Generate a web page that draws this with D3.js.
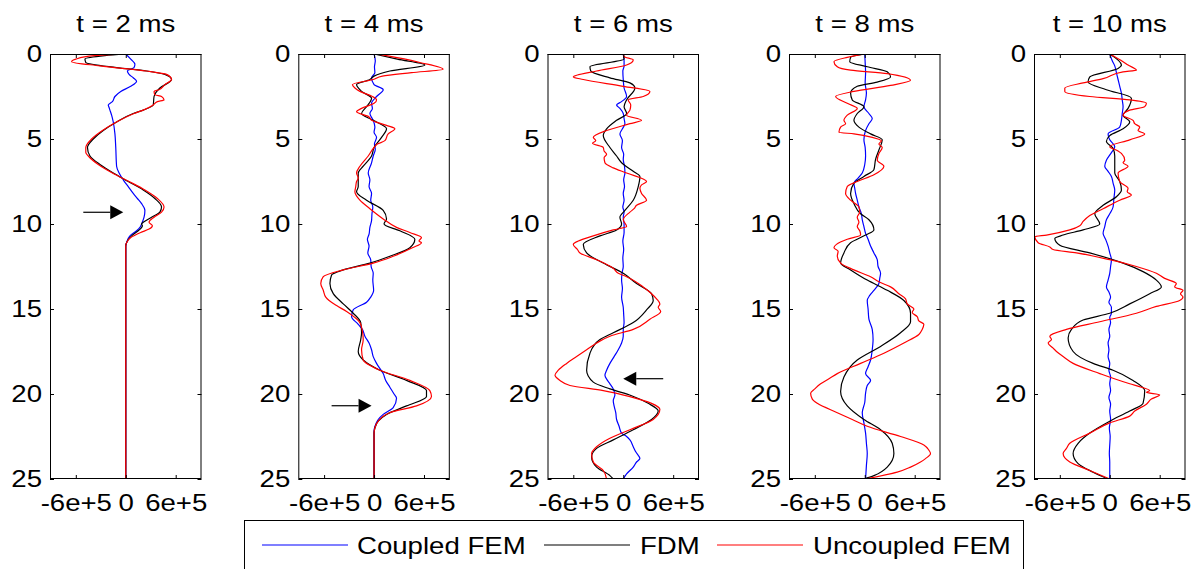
<!DOCTYPE html>
<html>
<head>
<meta charset="utf-8">
<script src="https://cdn.jsdelivr.net/npm/d3@7/dist/d3.min.js"></script>
<style>
  html, body { margin: 0; padding: 0; background: #fff; }
  svg { display: block; }
  text { font-family: "Liberation Sans", Arial, Helvetica, sans-serif; fill: #000; }
</style>
</head>
<body>
<svg id="chart" width="1200" height="569"></svg>
<script>
// ---------------- DATA ----------------
const panelTitles = ["t = 2 ms", "t = 4 ms", "t = 6 ms", "t = 8 ms", "t = 10 ms"];
const seriesNames = ["Coupled FEM", "FDM", "Uncoupled FEM"];
const seriesColors = ["#0000ff", "#000000", "#ff0000"];
const xTickValues = [-6e5, 0, 6e5];
const xTickLabels = ["-6e+5", "0", "6e+5"];
const yTickValues = [0, 5, 10, 15, 20, 25];
const xDomain = [-9.1e5, 9.1e5];
const yDomain = [0, 25];

// [depth, value]
const coupled2ms = [[0,0],[0.3,0.6e5],[0.6,1.1e5],[0.8,1.0e5],[1.0,0.2e5],[1.2,0.4e5],[1.4,0.9e5],[1.6,1.3e5],[1.9,0.6e5],[2.2,-0.6e5],[2.5,-1.3e5],[2.8,-1.6e5],[3.0,-2.1e5],[3.15,-2.0e5],[3.3,-1.9e5],[3.6,-1.7e5],[4.0,-1.5e5],[4.7,-1.3e5],[5.5,-1.2e5],[6.6,-1.1e5],[7.0,-0.8e5],[7.4,-0.3e5],[7.8,0.3e5],[8.2,0.9e5],[8.5,1.4e5],[8.8,1.9e5],[9.2,2.3e5],[9.6,2.2e5],[10.0,1.9e5],[10.2,1.7e5],[10.4,1.3e5],[10.7,0.5e5],[11.1,0.1e5],[11.3,0],[25,0]];
const fdm2ms = [[0,0],[0.1,-2.5e5],[0.3,-4.9e5],[0.5,-4.8e5],[0.8,-1.1e5],[1.0,2.5e5],[1.2,4.7e5],[1.5,5.5e5],[2.0,4.1e5],[2.5,3.4e5],[3.0,3.3e5],[3.3,2.1e5],[3.5,0.9e5],[4.0,-1.1e5],[4.5,-2.7e5],[5.0,-3.9e5],[5.5,-4.6e5],[6.0,-4.3e5],[6.5,-3.1e5],[7.0,-1.5e5],[7.5,0.3e5],[8.0,2.1e5],[8.5,3.5e5],[9.0,4.3e5],[9.3,4.1e5],[9.6,3.1e5],[9.9,2.1e5],[10.0,1.9e5],[10.1,2.0e5],[10.4,1.5e5],[10.7,0.7e5],[11.0,0.2e5],[11.3,0],[25,0]];
const uncoupled2ms = [[0,0],[0.1,-3.8e5],[0.3,-6.0e5],[0.45,-6.5e5],[0.7,-3.1e5],[1.0,2.5e5],[1.2,4.9e5],[1.5,5.5e5],[1.8,4.7e5],[2.1,4.0e5],[2.2,3.4e5],[2.4,3.5e5],[2.5,4.3e5],[2.7,4.6e5],[2.8,3.8e5],[3.0,3.3e5],[3.3,2.1e5],[3.5,1.0e5],[4.0,-1.1e5],[4.5,-2.8e5],[5.0,-4.1e5],[5.5,-4.8e5],[5.8,-4.8e5],[6.0,-4.5e5],[6.5,-3.3e5],[7.0,-1.6e5],[7.5,0.4e5],[8.0,2.3e5],[8.5,3.8e5],[9.0,4.6e5],[9.3,4.3e5],[9.6,3.4e5],[9.9,2.8e5],[10.1,3.2e5],[10.3,2.8e5],[10.5,1.8e5],[10.8,0.6e5],[11.1,0.1e5],[11.3,0],[25,0]];

const coupled4ms = [[0,0],[0.4,0.15e5],[0.75,0.05e5],[1.1,0.1e5],[1.4,-0.3e5],[1.8,0],[2.1,1.1e5],[2.5,0.3e5],[2.9,-0.3e5],[3.2,-0.2e5],[3.5,-0.5e5],[3.9,-0.1e5],[4.3,0.1e5],[4.6,0],[4.9,0.3e5],[5.3,0.05e5],[5.6,0.15e5],[6.0,-0.1e5],[6.4,-0.3e5],[7.0,-0.7e5],[7.4,-0.5e5],[7.8,-0.6e5],[8.2,-0.3e5],[8.6,-0.4e5],[9.0,-0.15e5],[9.4,-0.25e5],[9.8,-0.3e5],[10.2,-0.5e5],[10.6,-0.6e5],[10.9,-0.8e5],[11.3,-0.6e5],[11.7,-0.75e5],[12.1,-0.4e5],[12.5,-0.35e5],[12.9,-0.1e5],[13.3,-0.15e5],[13.9,-0.05e5],[14.3,-0.4e5],[14.6,-0.9e5],[15.05,-2.5e5],[15.45,-2.7e5],[15.9,-1.9e5],[16.2,-1.4e5],[16.6,-1.1e5],[17.0,-0.6e5],[17.4,-0.3e5],[17.8,-0.1e5],[18.2,0.3e5],[18.8,1.1e5],[19.2,1.4e5],[19.6,1.9e5],[20.0,2.4e5],[20.25,2.7e5],[20.8,2.3e5],[21.2,1.1e5],[21.5,0.5e5],[21.9,0.1e5],[22.2,0],[25,0]];
const fdm4ms = [[0,0],[0.3,2.8e5],[0.65,6.1e5],[1.0,1.9e5],[1.3,0],[1.5,-0.5e5],[1.8,-2.1e5],[2.2,-1.5e5],[2.6,-0.3e5],[3.1,-0.9e5],[3.5,-1.5e5],[3.9,-0.1e5],[4.4,1.5e5],[4.9,0.9e5],[5.5,0],[6.0,-0.3e5],[6.6,-1.3e5],[7.0,-1.9e5],[7.8,-1.9e5],[8.1,-2.1e5],[8.6,-0.9e5],[9.2,1.1e5],[9.7,1.5e5],[10.0,1.2e5],[10.4,3.1e5],[10.9,4.9e5],[11.4,4.3e5],[11.9,1.9e5],[12.3,-0.5e5],[12.7,-3.7e5],[13.0,-5.1e5],[13.5,-5.3e5],[14.1,-4.9e5],[14.7,-3.7e5],[15.25,-2.5e5],[15.8,-1.6e5],[16.4,-1.5e5],[16.8,-1.6e5],[17.5,-1.9e5],[18.0,-1.3e5],[18.6,0.7e5],[19.2,3.9e5],[19.8,6.3e5],[20.15,6.3e5],[20.7,3.9e5],[21.2,1.5e5],[21.6,0.5e5],[22.0,0.1e5],[22.3,0],[25,0]];
const uncoupled4ms = [[0,0.3e5],[0.1,1.5e5],[0.5,5.5e5],[0.9,8.3e5],[1.1,4.5e5],[1.3,1.0e5],[1.5,-0.1e5],[1.8,-2.6e5],[2.0,-2.3e5],[2.2,-1.7e5],[2.5,-0.2e5],[2.7,0.3e5],[2.9,0],[3.2,-1.5e5],[3.4,-2.1e5],[3.7,-0.6e5],[3.9,-0.3e5],[4.2,1.5e5],[4.4,2.5e5],[4.7,1.7e5],[5.1,1.3e5],[5.3,0.4e5],[5.5,0],[6.0,-0.7e5],[6.6,-1.7e5],[7.0,-2.1e5],[7.3,-1.9e5],[7.5,-2.1e5],[7.8,-2.2e5],[8.1,-2.3e5],[8.6,-1.7e5],[9.1,-0.5e5],[9.7,1.1e5],[10.2,2.7e5],[10.5,4.3e5],[10.8,5.7e5],[11.0,5.4e5],[11.1,5.7e5],[11.4,4.6e5],[11.9,2.3e5],[12.3,-0.1e5],[12.7,-3.7e5],[13.1,-6.1e5],[13.5,-6.4e5],[13.9,-6.1e5],[14.3,-5.8e5],[14.5,-5.4e5],[14.8,-4.5e5],[15.15,-3.3e5],[15.8,-1.7e5],[16.3,-1.4e5],[16.8,-1.3e5],[17.4,-1.5e5],[18.0,-1.3e5],[18.6,0.7e5],[19.2,4.3e5],[19.8,6.7e5],[20.15,6.9e5],[20.7,5.1e5],[21.1,1.9e5],[21.6,0.5e5],[22.0,0.1e5],[22.3,0],[25,0]];

const coupled6ms = [[0,0],[0.4,0.1e5],[0.7,0.1e5],[1.0,-0.05e5],[1.5,0],[2.0,0.1e5],[2.5,0.4e5],[2.8,-0.2e5],[3.0,-0.8e5],[3.2,-0.4e5],[3.5,0],[3.8,0.1e5],[4.1,0.2e5],[4.4,-0.1e5],[4.7,-0.4e5],[5.1,-0.1e5],[5.5,-0.2e5],[5.9,0.05e5],[6.2,0],[6.6,0.15e5],[7.0,0.2e5],[7.4,0.05e5],[7.8,0.15e5],[8.2,0],[8.6,0.1e5],[9.0,-0.05e5],[9.3,0.1e5],[9.6,0],[10.0,0.1e5],[10.5,0.1e5],[11.0,-0.05e5],[11.5,0.05e5],[12.0,-0.05e5],[12.5,0],[12.9,-0.15e5],[13.3,-0.2e5],[13.8,-0.1e5],[14.3,-0.2e5],[14.9,0],[15.3,0.05e5],[15.8,0.1e5],[16.2,0],[16.6,0],[17.0,-0.2e5],[17.4,-0.6e5],[17.8,-1.1e5],[18.2,-1.6e5],[18.6,-2.0e5],[18.9,-2.2e5],[19.2,-1.9e5],[19.4,-1.6e5],[19.7,-1.2e5],[20.05,-1.0e5],[20.4,-1.2e5],[20.7,-1.1e5],[21.1,-0.9e5],[21.5,-0.8e5],[21.9,-0.5e5],[22.3,-0.2e5],[22.5,0.4e5],[22.7,0.8e5],[23.1,1.2e5],[23.4,1.5e5],[23.8,2.0e5],[24.0,1.6e5],[24.3,1.2e5],[24.7,0.4e5],[25,0]];
const fdm6ms = [[0,0],[0.3,0.1e5],[0.75,-4.0e5],[1.0,-3.9e5],[1.4,-1.6e5],[1.7,0.8e5],[2.0,1.4e5],[2.7,0.4e5],[3.1,0.1e5],[3.5,0.4e5],[3.9,-0.8e5],[4.4,-2.0e5],[4.8,-2.4e5],[5.5,-1.6e5],[6.0,-0.8e5],[6.4,-0.2e5],[6.9,1.2e5],[7.2,2.0e5],[7.8,1.8e5],[8.6,1.2e5],[9.2,0.2e5],[9.6,-0.4e5],[10.0,-0.2e5],[10.35,-0.8e5],[10.7,-2.8e5],[11.2,-4.8e5],[11.7,-4.4e5],[12.3,-2.4e5],[12.9,0],[13.5,1.6e5],[14.1,3.4e5],[14.5,3.6e5],[15.05,2.8e5],[15.8,1.2e5],[16.4,-1.2e5],[16.8,-2.8e5],[17.6,-4.0e5],[18.6,-4.4e5],[19.3,-3.6e5],[19.7,-1.6e5],[20.1,1.0e5],[20.55,3.0e5],[21.0,4.2e5],[21.5,3.4e5],[22.1,1.2e5],[22.7,-1.2e5],[23.2,-3.2e5],[23.7,-3.8e5],[24.3,-3.2e5],[24.8,-1.6e5],[25,-1.2e5]];
const uncoupled6ms = [[0,0],[0.15,0.1e5],[0.35,1.2e5],[0.65,0.4e5],[1.0,-3.2e5],[1.35,-6.0e5],[1.5,-4.8e5],[1.9,0],[2.2,3.2e5],[2.5,2.4e5],[2.7,0.6e5],[3.0,0.9e5],[3.3,0.8e5],[3.6,0.4e5],[3.9,2.2e5],[4.1,0.8e5],[4.5,-2.0e5],[4.9,-3.6e5],[5.1,-3.3e5],[5.25,-3.7e5],[5.5,-2.4e5],[5.7,-2.3e5],[5.9,-2.0e5],[6.1,-2.3e5],[6.4,-2.2e5],[6.7,-1.2e5],[7.0,0.4e5],[7.5,2.8e5],[7.7,2.2e5],[7.9,2.0e5],[8.2,2.2e5],[8.6,2.8e5],[8.9,1.6e5],[9.1,1.3e5],[9.3,0.8e5],[9.75,0],[10.15,0.4e5],[10.35,-1.2e5],[10.7,-3.6e5],[11.0,-5.4e5],[11.2,-6.0e5],[11.5,-5.5e5],[11.7,-5.2e5],[12.1,-3.2e5],[12.6,-1.2e5],[12.9,-0.6e5],[13.1,0.4e5],[13.7,2.4e5],[14.1,3.4e5],[14.4,4.0e5],[14.7,4.4e5],[14.9,4.2e5],[15.15,4.5e5],[15.6,3.2e5],[16.2,1.2e5],[16.6,-1.6e5],[17.0,-3.2e5],[17.4,-4.4e5],[17.8,-5.6e5],[18.2,-6.8e5],[18.6,-7.8e5],[18.9,-8.2e5],[19.2,-7.6e5],[19.5,-6.4e5],[19.8,-2.4e5],[20.15,0.8e5],[20.55,3.4e5],[20.9,4.4e5],[21.5,3.6e5],[22.1,0.8e5],[22.6,-1.6e5],[23.1,-3.2e5],[23.5,-3.8e5],[24.0,-3.6e5],[24.5,-2.4e5],[25,-2.0e5]];

const coupled8ms = [[0,0],[0.5,0.05e5],[1.1,0.1e5],[1.7,0.05e5],[2.3,0.2e5],[2.7,0.1e5],[3.1,-0.1e5],[3.5,0.5e5],[3.8,0.9e5],[4.1,0.5e5],[4.5,0.1e5],[5.05,-0.1e5],[5.5,0.05e5],[6.0,0.1e5],[6.5,0],[7.0,-0.3e5],[7.3,-0.8e5],[7.6,-1.3e5],[7.9,-1.2e5],[8.2,-1.1e5],[8.6,-0.9e5],[9.0,-0.7e5],[9.4,-0.4e5],[9.75,-0.3e5],[10.15,-0.1e5],[10.55,0.1e5],[10.9,0.4e5],[11.3,0.7e5],[11.7,1.1e5],[12.1,1.5e5],[12.5,1.6e5],[12.9,1.9e5],[13.2,1.8e5],[13.5,1.7e5],[13.9,1.1e5],[14.2,0.6e5],[14.5,0.3e5],[15.0,0.4e5],[15.6,0.5e5],[16.2,0.9e5],[16.8,1.0e5],[17.4,0.9e5],[18.0,0.7e5],[18.4,0.4e5],[18.8,0.1e5],[19.2,0.7e5],[19.5,0.3e5],[19.95,0.1e5],[20.5,0],[21.1,-0.3e5],[21.7,-0.1e5],[22.3,0.1e5],[22.9,0.2e5],[23.5,0.3e5],[24.2,0.2e5],[25,0.1e5]];
const fdm8ms = [[0,0],[0.2,-1.7e5],[0.45,-1.8e5],[0.75,0.3e5],[1.05,2.7e5],[1.35,3.1e5],[1.65,1.5e5],[1.9,-0.9e5],[2.3,-1.7e5],[2.7,-1.5e5],[3.1,-0.1e5],[3.5,-0.9e5],[3.9,-1.3e5],[4.3,-0.7e5],[4.7,0.7e5],[5.05,2.1e5],[5.65,1.7e5],[6.2,1.3e5],[6.8,1.1e5],[7.2,-0.1e5],[7.6,-1.3e5],[8.2,-1.7e5],[8.8,-1.3e5],[9.4,-0.5e5],[9.75,0.5e5],[10.35,1.1e5],[10.65,0.1e5],[11.1,-1.7e5],[11.7,-2.5e5],[12.3,-2.9e5],[12.7,-1.7e5],[13.3,0.3e5],[13.9,2.7e5],[14.5,4.7e5],[15.25,5.5e5],[15.75,5.5e5],[16.4,4.3e5],[17.2,1.9e5],[18.0,-0.9e5],[19.0,-2.5e5],[19.85,-2.9e5],[20.7,-2.1e5],[21.5,-0.1e5],[22.1,1.9e5],[22.9,3.3e5],[23.5,3.5e5],[24.3,2.7e5],[24.8,1.1e5],[25,-0.1e5]];
const uncoupled8ms = [[0,0],[0.2,-2.1e5],[0.45,-3.7e5],[0.75,-3.3e5],[0.95,-1.7e5],[1.15,2.7e5],[1.55,5.5e5],[1.85,3.1e5],[2.2,-1.3e5],[2.5,-3.5e5],[2.9,-2.1e5],[3.2,-0.9e5],[3.6,-2.1e5],[3.9,-2.5e5],[4.1,-2.3e5],[4.3,-2.9e5],[4.6,-3.1e5],[4.7,-1.3e5],[4.9,0.9e5],[5.1,2.0e5],[5.3,1.7e5],[5.5,2.1e5],[5.85,1.7e5],[6.25,1.5e5],[6.6,2.3e5],[7.1,1.1e5],[7.5,-0.9e5],[7.8,-2.1e5],[8.2,-2.3e5],[8.6,-1.7e5],[9.0,-0.7e5],[9.3,-0.6e5],[9.6,-0.9e5],[9.9,-0.7e5],[10.15,-0.9e5],[10.4,-0.6e5],[10.65,-0.5e5],[10.9,-2.1e5],[11.2,-3.4e5],[11.4,-3.7e5],[11.6,-3.2e5],[11.9,-3.3e5],[12.3,-2.9e5],[12.7,-1.3e5],[13.1,0.7e5],[13.4,1.7e5],[13.7,3.1e5],[14.1,4.1e5],[14.4,4.9e5],[14.7,5.1e5],[15.0,5.9e5],[15.2,5.7e5],[15.45,6.3e5],[15.7,6.5e5],[15.9,7.1e5],[16.2,6.9e5],[16.5,6.5e5],[17.0,4.7e5],[17.6,2.3e5],[18.2,-0.5e5],[18.8,-3.3e5],[19.1,-4.3e5],[19.4,-5.3e5],[19.7,-6.0e5],[19.95,-6.5e5],[20.3,-6.3e5],[20.55,-5.7e5],[21.1,-3.3e5],[21.5,-1.5e5],[21.9,0.3e5],[22.5,4.3e5],[23.0,7.1e5],[23.3,7.7e5],[23.5,7.9e5],[23.8,7.3e5],[24.0,6.7e5],[24.3,5.5e5],[24.6,3.9e5],[25,0.1e5]];

const coupled10ms = [[0,0],[0.4,0.3e5],[0.7,0.6e5],[1.1,0.8e5],[1.5,1.0e5],[1.9,1.2e5],[2.3,1.4e5],[2.7,1.5e5],[3.1,1.6e5],[3.5,1.5e5],[3.9,1.4e5],[4.3,1.2e5],[4.7,-0.2e5],[5.05,0],[5.45,0.6e5],[5.8,0.2e5],[6.25,-0.4e5],[6.6,-0.6e5],[6.9,-0.2e5],[7.2,0.2e5],[7.6,0.4e5],[8.0,0.6e5],[8.5,0.5e5],[9.0,0.4e5],[9.4,0],[9.75,-0.4e5],[10.15,-0.6e5],[10.55,-0.8e5],[10.9,-0.5e5],[11.3,-0.2e5],[11.7,0],[12.1,0.2e5],[12.5,0.1e5],[12.9,0],[13.3,-0.2e5],[13.7,-0.4e5],[14.0,-0.1e5],[14.3,0.1e5],[14.6,-0.1e5],[14.9,0.2e5],[15.25,0.2e5],[15.5,0],[15.8,0.1e5],[16.2,-0.1e5],[16.6,0],[17.0,-0.2e5],[17.4,-0.1e5],[17.8,-0.2e5],[18.2,0],[18.6,-0.1e5],[19.0,0.1e5],[19.4,0],[19.8,0.1e5],[20.2,-0.1e5],[20.6,0.1e5],[21.0,0],[21.5,0.1e5],[22.0,-0.05e5],[22.5,0.05e5],[23.0,0],[23.5,-0.05e5],[24.0,0],[25,0]];
const fdm10ms = [[0,0],[0.65,1.4e5],[0.85,1.0e5],[1.35,-2.4e5],[1.65,-2.6e5],[2.1,-0.4e5],[2.6,2.6e5],[3.2,2.2e5],[3.6,1.6e5],[4.0,2.4e5],[4.4,1.6e5],[4.8,0],[5.15,-0.4e5],[5.55,0.4e5],[6.0,0.6e5],[7.0,0.6e5],[7.5,1.2e5],[8.0,1.4e5],[8.4,0.8e5],[8.9,-0.8e5],[9.4,-1.8e5],[10.0,-1.2e5],[10.35,-3.2e5],[10.65,-5.6e5],[10.85,-6.6e5],[11.25,-6.0e5],[11.7,-2.4e5],[12.3,1.6e5],[12.8,4.0e5],[13.3,5.6e5],[13.7,6.2e5],[14.1,4.8e5],[14.7,2.4e5],[15.25,0],[15.65,-3.2e5],[16.2,-4.6e5],[16.7,-5.0e5],[17.5,-4.4e5],[18.2,-2.0e5],[18.6,0.4e5],[19.2,2.8e5],[19.8,4.2e5],[20.55,4.0e5],[21.0,2.4e5],[21.6,0],[22.3,-2.4e5],[22.9,-3.8e5],[23.5,-4.4e5],[24.1,-3.8e5],[24.6,-2.0e5],[25,-0.2e5]];
const uncoupled10ms = [[0,0],[0.45,1.6e5],[0.65,2.2e5],[0.95,3.2e5],[1.05,1.6e5],[1.45,-0.8e5],[1.7,-3.2e5],[2.0,-5.4e5],[2.2,-5.4e5],[2.5,-2.4e5],[2.7,2.4e5],[2.9,4.4e5],[3.1,4.2e5],[3.3,2.4e5],[3.6,1.6e5],[3.9,2.8e5],[4.1,3.0e5],[4.3,3.6e5],[4.5,3.4e5],[4.7,4.2e5],[5.05,2.4e5],[5.45,0],[5.7,1.0e5],[5.85,1.4e5],[6.25,1.8e5],[6.4,1.6e5],[6.6,2.2e5],[7.0,1.0e5],[7.5,1.2e5],[7.9,2.2e5],[8.1,2.1e5],[8.3,2.6e5],[8.6,1.2e5],[9.1,-0.8e5],[9.5,-2.4e5],[9.85,-3.2e5],[10.1,-3.6e5],[10.35,-4.8e5],[10.65,-7.6e5],[10.75,-9.0e5],[11.1,-8.6e5],[11.35,-7.2e5],[11.5,-6.8e5],[11.7,-4.0e5],[12.1,0],[12.5,3.2e5],[12.9,5.6e5],[13.2,6.6e5],[13.5,8.0e5],[13.7,7.8e5],[13.9,8.8e5],[14.1,8.5e5],[14.3,8.8e5],[14.5,8.4e5],[14.85,5.6e5],[15.25,3.2e5],[15.75,-1.2e5],[16.2,-5.2e5],[16.6,-7.2e5],[16.8,-7.0e5],[17.0,-7.4e5],[17.3,-6.8e5],[17.5,-6.4e5],[17.8,-5.6e5],[18.2,-4.4e5],[18.8,-1.2e5],[19.4,2.4e5],[19.6,3.8e5],[19.8,4.8e5],[19.9,4.4e5],[20.05,6.0e5],[20.3,5.0e5],[20.6,4.4e5],[21.0,3.0e5],[21.3,2.4e5],[21.7,0],[22.3,-2.4e5],[22.9,-4.8e5],[23.2,-5.2e5],[23.5,-5.6e5],[24.0,-4.8e5],[24.5,-2.4e5],[25,0]];

const panelSeries = [
  [coupled2ms, fdm2ms, uncoupled2ms],
  [coupled4ms, fdm4ms, uncoupled4ms],
  [coupled6ms, fdm6ms, uncoupled6ms],
  [coupled8ms, fdm8ms, uncoupled8ms],
  [coupled10ms, fdm10ms, uncoupled10ms]
];

// annotation arrows: panel index, depth, tail value, tip value
const arrowPanels = [0, 1, 2];
const arrowDepths = [9.31, 20.69, 19.1];
const arrowTails = [-5.1e5, -5.1e5, 4.8e5];
const arrowTips = [-0.3e5, -0.3e5, 0];

// ---------------- LAYOUT ----------------
const svg = d3.select("#chart");
const panelLefts = [50, 298.3, 547.5, 789, 1034];
const plotW = 151.5;
const plotTop = 54, plotBottom = 479;
const FONT = 23, SX = 1.2;

const y = d3.scaleLinear().domain(yDomain).range([plotTop, plotBottom]);

function addText(g, x, yy, str, anchor, size) {
  return g.append("text")
    .attr("transform", `translate(${x},${yy}) scale(${SX},1)`)
    .attr("text-anchor", anchor)
    .style("font-size", (size || FONT) + "px")
    .text(str);
}

const defs = svg.append("defs");
panelTitles.forEach((title, i) => {
  const left = panelLefts[i];
  const x = d3.scaleLinear().domain(xDomain).range([left, left + plotW]);
  const g = svg.append("g");

  defs.append("clipPath").attr("id", "clip" + i)
    .append("rect").attr("x", left).attr("y", plotTop).attr("width", plotW).attr("height", plotBottom - plotTop);

  // data lines
  const lineGen = d3.line().x(d => x(d[1])).y(d => y(d[0])).curve(d3.curveMonotoneY);
  const lines = g.append("g").attr("clip-path", `url(#clip${i})`);
  panelSeries[i].forEach((series, k) => {
    lines.append("path")
      .datum(series)
      .attr("fill", "none")
      .attr("stroke", seriesColors[k])
      .attr("stroke-width", 1.2)
      .attr("stroke-linejoin", "round")
      .attr("d", lineGen);
  });

  // axes (inward ticks)
  const left_ax = g.append("g").attr("transform", `translate(${left},0)`)
    .call(d3.axisLeft(y).tickValues(yTickValues).tickSizeInner(-4).tickSizeOuter(0).tickPadding(8 / SX).tickFormat(d3.format("d")));
  const right_ax = g.append("g").attr("transform", `translate(${left + plotW},0)`)
    .call(d3.axisRight(y).tickValues(yTickValues).tickSizeInner(-4).tickSizeOuter(0).tickFormat(""));
  const bot_ax = g.append("g").attr("transform", `translate(0,${plotBottom})`)
    .call(d3.axisBottom(x).tickValues(xTickValues).tickSizeInner(-4).tickSizeOuter(0).tickPadding(16)
      .tickFormat((d, j) => xTickLabels[j]));
  const top_ax = g.append("g").attr("transform", `translate(0,${plotTop})`)
    .call(d3.axisTop(x).tickValues(xTickValues).tickSizeInner(-4).tickSizeOuter(0).tickFormat(""));
  [left_ax, right_ax, bot_ax, top_ax].forEach(ax => {
    ax.select(".domain").remove();
    ax.selectAll("line").attr("stroke", "#000").attr("stroke-width", 1);
    ax.selectAll("text").style("font-size", FONT + "px")
      .style("font-family", '"Liberation Sans", Arial, sans-serif').attr("fill", "#000");
  });
  left_ax.selectAll("text").attr("transform", `scale(${SX},1)`);
  bot_ax.selectAll("text").attr("transform", `scale(${SX},1)`).attr("y", 16);

  // frame
  g.append("rect").attr("x", left + 0.5).attr("y", plotTop + 0.5)
    .attr("width", plotW - 1).attr("height", plotBottom - plotTop - 1)
    .attr("fill", "none").attr("stroke", "#000").attr("stroke-width", 1);

  // title
  addText(g, left + plotW / 2, 32, title, "middle");

  // arrows
  arrowPanels.forEach((p, a) => {
    if (p !== i) return;
    const yy = y(arrowDepths[a]);
    const xt = x(arrowTails[a]), xh = x(arrowTips[a]);
    const dir = xh > xt ? 1 : -1;
    const headLen = 13, headHalf = 7;
    g.append("line").attr("x1", xt).attr("y1", yy).attr("x2", xh - dir * headLen).attr("y2", yy)
      .attr("stroke", "#000").attr("stroke-width", 1.2);
    g.append("path")
      .attr("d", `M${xh},${yy} L${xh - dir * headLen},${yy - headHalf} L${xh - dir * headLen},${yy + headHalf} Z`)
      .attr("fill", "#000");
  });
});

// ---------------- LEGEND ----------------
const leg = svg.append("g");
leg.append("rect").attr("x", 244.5).attr("y", 520.5).attr("width", 779).attr("height", 60)
  .attr("fill", "#fff").attr("stroke", "#000").attr("stroke-width", 1);
const legLineX = [262, 544, 717];
const legTextX = [357, 640, 813];
seriesNames.forEach((name, k) => {
  leg.append("line").attr("x1", legLineX[k]).attr("x2", legLineX[k] + 86)
    .attr("y1", 545).attr("y2", 545).attr("stroke", seriesColors[k]).attr("stroke-width", 1.1);
  addText(leg, legTextX[k], 554, name, "start", 23);
});
</script>
</body>
</html>
